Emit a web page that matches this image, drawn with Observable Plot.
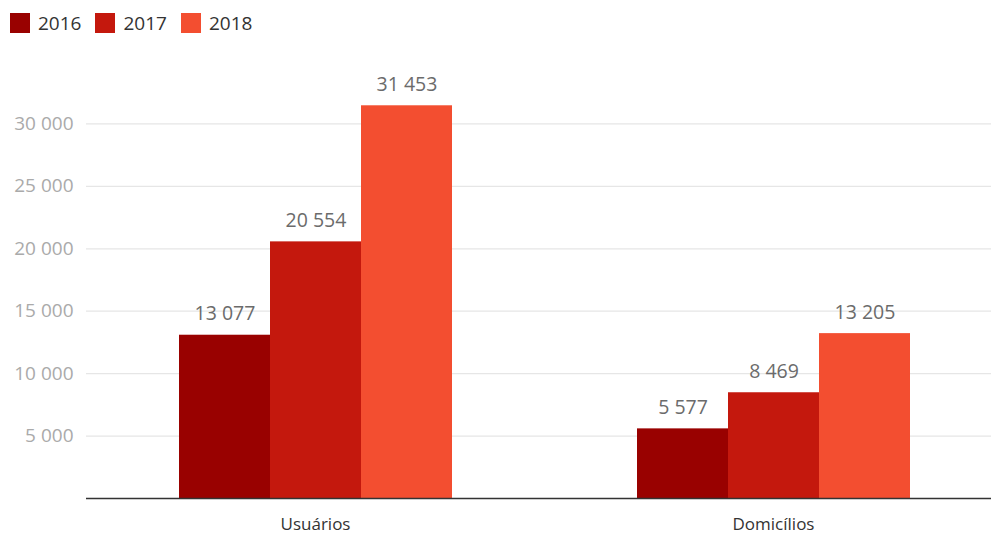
<!DOCTYPE html>
<html>
<head>
<meta charset="utf-8">
<script src="https://cdn.jsdelivr.net/npm/d3@7"></script>
<script src="https://cdn.jsdelivr.net/npm/@observablehq/plot@0.6"></script>
<style>
  html, body { margin: 0; padding: 0; background: #fff; font-family: "Open Sans", sans-serif; overflow: hidden; width: 991px; height: 535px; }
  #legend { height: 40px; display: flex; align-items: center; padding-left: 10px; padding-top: 6px; box-sizing: border-box; }
  .item { display: flex; align-items: center; margin-right: 14px; font-size: 19px; color: #333; }
  .sw { width: 20px; height: 20px; margin-right: 8px; }
  #chart svg { display: block; width: 991px; max-width: none; height: 495px; }
</style>
</head>
<body>
<div id="legend"></div>
<div id="chart"></div>
<script>
const categories = ["Usuários", "Domicílios"];
const years = ["2016", "2017", "2018"];
const usuarios = [13077, 20554, 31453];
const domicilios = [5577, 8469, 13205];
const yTicks = [5000, 10000, 15000, 20000, 25000, 30000];
const colors = ["#990100", "#c4180d", "#f34e30"];

const seriesByCategory = [usuarios, domicilios];
const data = [];
categories.forEach((c, ci) => years.forEach((y, yi) => data.push({category: c, year: y, value: seriesByCategory[ci][yi]})));

const fmt = d3.formatLocale({thousands: " ", grouping: [3], decimal: ",", currency: ["", ""]}).format(",");

const legend = document.getElementById("legend");
years.forEach((y, i) => {
  const it = document.createElement("div");
  it.className = "item";
  it.innerHTML = `<span class="sw" style="background:${colors[i]}"></span><span>${y}</span>`;
  legend.appendChild(it);
});

const chart = Plot.plot({
  width: 991,
  height: 495,
  marginLeft: 86,
  marginRight: -11,
  marginTop: 21,
  marginBottom: 37,
  style: {fontFamily: "Open Sans, sans-serif", background: "#fff"},
  fx: {domain: categories, padding: 0, label: null},
  x: {domain: years, paddingInner: 0, paddingOuter: 1.0, axis: null},
  y: {domain: [0, 35000], axis: null},
  color: {domain: years, range: colors},
  marks: [
    Plot.ruleY(yTicks, {y: d => d, stroke: "#e6e6e6", strokeWidth: 1.2}),
    Plot.axisY(yTicks, {anchor: "left", tickSize: 0, tickPadding: 13, tickFormat: fmt, fontSize: 19, fill: "#aaa", label: null}),
    Plot.barY(data, {fx: "category", x: "year", y: "value", fill: "year"}),
    Plot.text(data, {fx: "category", x: "year", y: "value", text: d => fmt(d.value), dy: -21, fontSize: 19.5, fill: "#6b6b6b"}),
    Plot.ruleY([0], {stroke: "#333", strokeWidth: 1.5}),
    Plot.axisFx({anchor: "bottom", tickSize: 0, tickPadding: 19, fontSize: 17, fill: "#333", label: null})
  ]
});
document.getElementById("chart").appendChild(chart);
</script>
</body>
</html>
